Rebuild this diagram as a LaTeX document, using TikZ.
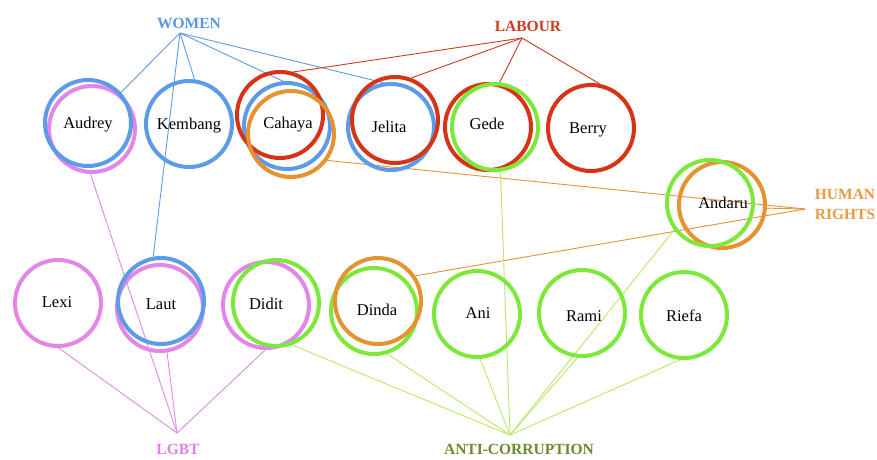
\documentclass[tikz,border=0pt]{standalone}
\usepackage{fontspec}
\setmainfont{Liberation Serif}
\usetikzlibrary{backgrounds}
\definecolor{ringblue}{RGB}{91,155,232}
\definecolor{ringred}{RGB}{214,52,22}
\definecolor{ringorange}{RGB}{230,146,48}
\definecolor{ringgreen}{RGB}{125,232,60}
\definecolor{ringpink}{RGB}{226,135,232}
\definecolor{lnblue}{RGB}{95,155,230}
\definecolor{lnred}{RGB}{200,60,30}
\definecolor{lnorange}{RGB}{228,145,55}
\definecolor{lnpink}{RGB}{222,140,228}
\definecolor{lngreen}{RGB}{185,232,105}
\definecolor{txblue}{RGB}{90,150,230}
\definecolor{txred}{RGB}{205,60,30}
\definecolor{txorange}{RGB}{228,155,70}
\definecolor{txpink}{RGB}{226,130,232}
\definecolor{txgreen}{RGB}{105,140,45}
\begin{document}
\begin{tikzpicture}[x=1pt,y=-1pt,
  ring/.style={circle, draw, line width=4pt, minimum size=86pt, inner sep=0pt},
  pname/.style={anchor=base, font=\fontsize{16.5}{18}\selectfont, text=black, inner sep=0pt},
  glabel/.style={anchor=base, font=\bfseries\fontsize{15.5}{17}\selectfont, inner sep=0pt},
  conn/.style={line width=0.9pt}]
\useasboundingbox (0,0) rectangle (877,459);

% rings, top row
\node[ring, ringpink] (audP) at (92,129) {};
\node[ring, ringblue] (audB) at (88,123) {};
\node[ring, ringblue] (kemB) at (189,124) {};
\node[ring, ringblue] (cahB) at (287,126) {};
\node[ring, ringred] (cahR) at (280,115) {};
\node[ring, ringorange] (cahO) at (291,134) {};
\node[ring, ringblue] (jelB) at (391,127) {};
\node[ring, ringred] (jelR) at (395,120) {};
\node[ring, ringred] (gedR) at (488,127) {};
\node[ring, ringgreen] (gedG) at (495,127) {};
\node[ring, ringred] (berR) at (591,128) {};
\node[ring, ringorange] (andO) at (722,205) {};
\node[ring, ringgreen] (andG) at (710,203) {};
% rings, bottom row
\node[ring, ringpink] (lexP) at (58,303) {};
\node[ring, ringpink] (lauP) at (160,308) {};
\node[ring, ringblue] (lauB) at (161,301) {};
\node[ring, ringpink] (didP) at (266,305) {};
\node[ring, ringgreen] (didG) at (276,303) {};
\node[ring, ringgreen] (dinG) at (374,311) {};
\node[ring, ringorange] (dinO) at (378,301) {};
\node[ring, ringgreen] (aniG) at (477,314) {};
\node[ring, ringgreen] (ramG) at (582,313) {};
\node[ring, ringgreen] (rieG) at (684,315) {};

% names
\node[pname] (tAud) at (88,128) {Audrey};
\node[pname] (tKem) at (189,129) {Kembang};
\node[pname] (tCah) at (288,128) {Cahaya};
\node[pname] (tJel) at (389,132) {Jelita};
\node[pname] (tGed) at (487,129) {Gede};
\node[pname] (tBer) at (588,133) {Berry};
\node[pname] (tAnd) at (723,208) {Andaru};
\node[pname] (tLex) at (57,307) {Lexi};
\node[pname] (tLau) at (161,309) {Laut};
\node[pname] (tDid) at (266,309) {Didit};
\node[pname] (tDin) at (377,315) {Dinda};
\node[pname] (tAni) at (478,318) {Ani};
\node[pname] (tRam) at (584,321) {Rami};
\node[pname] (tRie) at (684,321) {Riefa};

% group labels and hubs
\node[glabel, txblue] (women) at (189,28) {WOMEN};
\node[glabel, txred] (labour) at (528,31) {LABOUR};
\node[glabel, txorange, align=center, anchor=center, font=\bfseries\fontsize{15.5}{20}\selectfont] (hrights) at (845,204) {HUMAN\\RIGHTS};
\node[glabel, txpink] (lgbt) at (178,454) {LGBT};
\node[glabel, txgreen] (anticor) at (519,454) {ANTI-CORRUPTION};
\coordinate (hW) at (180,33);
\coordinate (hL) at (522,38);
\coordinate (hH) at (805,209);
\coordinate (hG) at (177,433);
\coordinate (hA) at (510,435);

\begin{scope}[on background layer]
\fill[white] (0,0) rectangle (877,459);
% women
\draw[conn, lnblue] (hW) -- (audB.43);
\draw[conn, lnblue] (hW) -- (kemB.83);
\draw[conn, lnblue] (hW) -- (cahB.95);
\draw[conn, lnblue] (hW) -- (jelB.100);
\draw[conn, lnblue] (hW) -- (lauB.100);
% labour
\draw[conn, lnred] (hL) -- (cahR.73);
\draw[conn, lnred] (hL) -- (jelR.69);
\draw[conn, lnred] (hL) -- (gedG.84);
\draw[conn, lnred] (hL) -- (berR.79);
% human rights
\draw[conn, lnorange] (hH) -- (cahO.-36);
\draw[conn, lnorange] (hH) -- (andO.-4);
\draw[conn, lnorange] (hH) -- (dinO.34);
% lgbt
\draw[conn, lnpink] (hG) -- (lexP.-89);
\draw[conn, lnpink] (hG) -- (audP.-92);
\draw[conn, lnpink] (hG) -- (lauP.-81);
\draw[conn, lnpink] (hG) -- (didP.-91);
% anti-corruption
\draw[conn, lngreen] (hA) -- (didG.-69);
\draw[conn, lngreen] (hA) -- (dinG.-73);
\draw[conn, lngreen] (hA) -- (aniG.-86);
\draw[conn, lngreen] (hA) -- (gedG.-83);
\draw[conn, lngreen] (hA) -- (ramG.-96);
\draw[conn, lngreen] (hA) -- (rieG.-95);
\draw[conn, lngreen] (hA) -- (andG.-143);
\end{scope}
\end{tikzpicture}
\end{document}
